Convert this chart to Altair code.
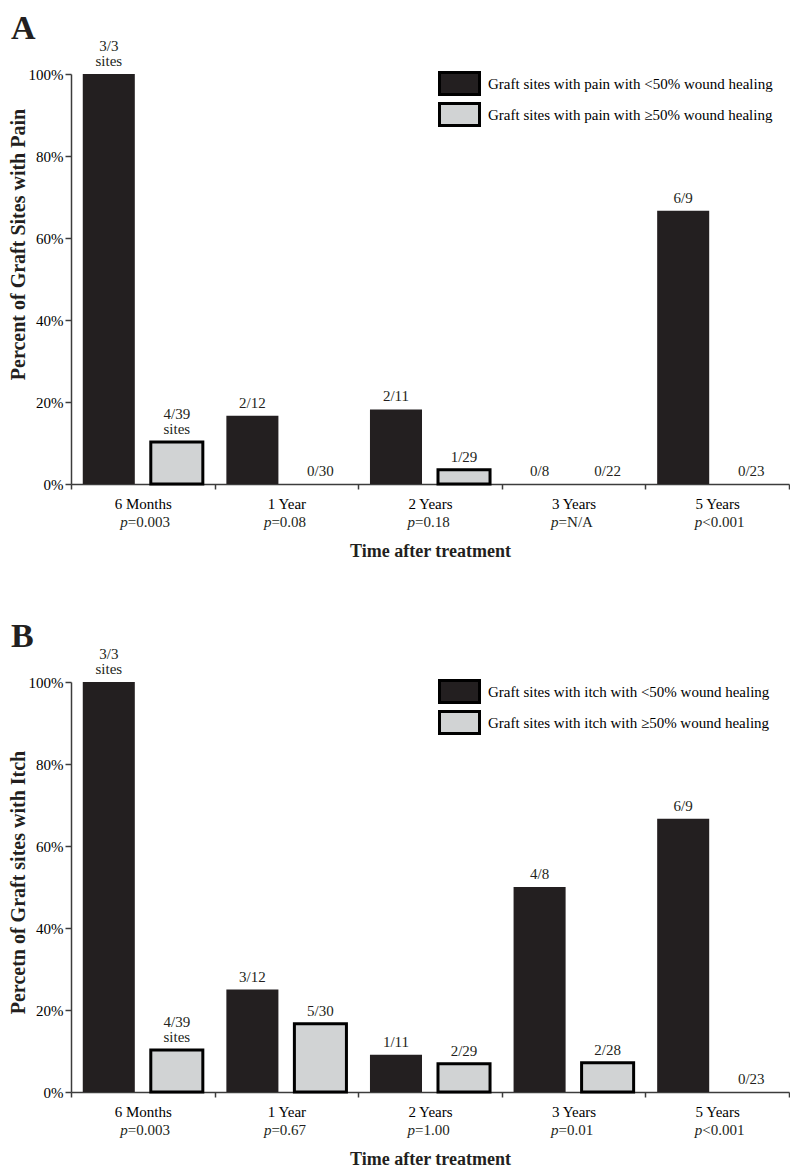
import altair as alt
import pandas as pd

# ---------------- data ----------------
times = ["6 Months", "1 Year", "2 Years", "3 Years", "5 Years"]
site_word = ["sites", "", "", "", ""]

panel_letters = ["A", "B"]
y_titles = ["Percent of Graft Sites with Pain", "Percetn of Graft sites with Itch"]

groups = ["lt", "ge"]
series_pain = ["Graft sites with pain with <50% wound healing",
               "Graft sites with pain with \u226550% wound healing"]
series_itch = ["Graft sites with itch with <50% wound healing",
               "Graft sites with itch with \u226550% wound healing"]

pvals_pain = ["=0.003", "=0.08", "=0.18", "=N/A", "<0.001"]
pvals_itch = ["=0.003", "=0.67", "=1.00", "=0.01", "<0.001"]

# counts (numerator / denominator)
pain_lt_num = [3, 2, 2, 0, 6]
pain_lt_den = [3, 12, 11, 8, 9]
pain_ge_num = [4, 0, 1, 0, 0]
pain_ge_den = [39, 30, 29, 22, 23]

itch_lt_num = [3, 3, 1, 4, 6]
itch_lt_den = [3, 12, 11, 8, 9]
itch_ge_num = [4, 5, 2, 2, 0]
itch_ge_den = [39, 30, 29, 28, 23]

# ---------------- style ----------------
FONT = "Liberation Serif"
BLACK = "#231f20"
GRAY = "#d1d3d4"
AXIS = "#3c3c3c"
W, H = 718, 410


def build_df(series, lt_n, lt_d, ge_n, ge_d):
    rows = []
    for i, t in enumerate(times):
        for g, s, n, d in ((groups[0], series[0], lt_n[i], lt_d[i]),
                           (groups[1], series[1], ge_n[i], ge_d[i])):
            frac = f"{n}/{d}"
            word = site_word[i]
            rows.append(dict(time=t, grp=g, series=s, value=n / d,
                             upper=frac if word else "",
                             lower=word if word else frac))
    return pd.DataFrame(rows)


def panel(letter, ytitle, series, df, pvals, title_y):
    pdf = pd.DataFrame({"time": times, "pval": pvals})
    ldf = pd.DataFrame({"letter": [letter]})

    x = alt.X("time:N", sort=times,
              scale=alt.Scale(domain=times, paddingInner=0, paddingOuter=0),
              axis=alt.Axis(title="Time after treatment", labelAngle=0,
                            tickBand="extent", tickSize=5, tickWidth=1.5,
                            tickColor=AXIS, domainColor=AXIS, domainWidth=1.5,
                            labelFont=FONT, labelFontSize=15, labelColor="black",
                            labelPadding=7, titleFont=FONT, titleFontSize=18,
                            titleFontWeight="bold", titleColor=BLACK,
                            titlePadding=31))
    xoff = alt.XOffset("grp:N", sort=groups,
                       scale=alt.Scale(domain=groups, paddingInner=0.235,
                                       paddingOuter=0.173))
    y = alt.Y("value:Q",
              scale=alt.Scale(domain=[0, 1], nice=False),
              axis=alt.Axis(format=".0%", values=[0, 0.2, 0.4, 0.6, 0.8, 1.0],
                            title=ytitle, titleY=title_y, tickSize=6,
                            tickWidth=1.5, tickColor=AXIS, domainColor=AXIS,
                            domainWidth=1.5, labelFont=FONT, labelFontSize=15,
                            labelColor="black", labelPadding=2,
                            titleFont=FONT, titleFontSize=20,
                            titleFontWeight="bold", titleColor=BLACK,
                            titlePadding=0))

    bars = alt.Chart(df).mark_bar(stroke="black").encode(
        x=x, xOffset=xoff, y=y,
        fill=alt.Fill("series:N", sort=series,
                      scale=alt.Scale(domain=series, range=[BLACK, GRAY]),
                      legend=alt.Legend(
                          title=None, orient="none", legendX=381, legendY=2,
                          symbolType="M-4,-2.2L4,-2.2L4,2.2L-4,2.2Z",
                          symbolSize=100, symbolStrokeColor="black",
                          symbolStrokeWidth=3, labelOffset=21, rowPadding=-4,
                          labelFont=FONT, labelFontSize=15, labelColor="black",
                          labelLimit=500, padding=0)),
        strokeWidth=alt.condition("datum.grp == 'ge' && datum.value > 0",
                                  alt.value(3), alt.value(0)),
    )

    xl = alt.X("time:N", sort=times)
    xo = alt.XOffset("grp:N", sort=groups)
    lower = alt.Chart(df).mark_text(
        baseline="bottom", dy=-5, font=FONT, fontSize=15, color=BLACK,
    ).encode(x=xl, xOffset=xo, y="value:Q", text="lower:N")
    upper = alt.Chart(df).mark_text(
        baseline="bottom", dy=-20, font=FONT, fontSize=15, color=BLACK,
    ).encode(x=xl, xOffset=xo, y="value:Q", text="upper:N")

    p_ital = alt.Chart(pdf).mark_text(
        text="p", font=FONT, fontSize=15, fontStyle="italic", align="right",
        baseline="alphabetic", dx=-15, color=BLACK,
    ).encode(x=xl, y=alt.value(H + 43))

    p_rest = alt.Chart(pdf).mark_text(
        font=FONT, fontSize=15, align="left", baseline="alphabetic", dx=-15,
        color=BLACK,
    ).encode(x=xl, y=alt.value(H + 43), text="pval:N")

    letter_mark = alt.Chart(ldf).mark_text(
        font=FONT, fontSize=34, fontWeight="bold", align="left",
        baseline="top", color=BLACK,
    ).encode(x=alt.value(-60), y=alt.value(-62), text="letter:N")

    return alt.layer(bars, lower, upper, p_ital, p_rest, letter_mark).properties(
        width=W, height=H)


df_pain = build_df(series_pain, pain_lt_num, pain_lt_den, pain_ge_num, pain_ge_den)
df_itch = build_df(series_itch, itch_lt_num, itch_lt_den, itch_ge_num, itch_ge_den)

panel_a = panel(panel_letters[0], y_titles[0], series_pain, df_pain, pvals_pain, 170)
panel_b = panel(panel_letters[1], y_titles[1], series_itch, df_itch, pvals_itch, 200)

chart = alt.vconcat(panel_a, panel_b, spacing=60).resolve_scale(
    fill="independent").resolve_legend(fill="independent").properties(
    padding={"top": 4, "left": 0, "right": 0, "bottom": 0}
).configure_view(stroke=None).configure_axis(grid=False)

chart.save("out.html", embed_options={"renderer": "svg", "actions": False})
